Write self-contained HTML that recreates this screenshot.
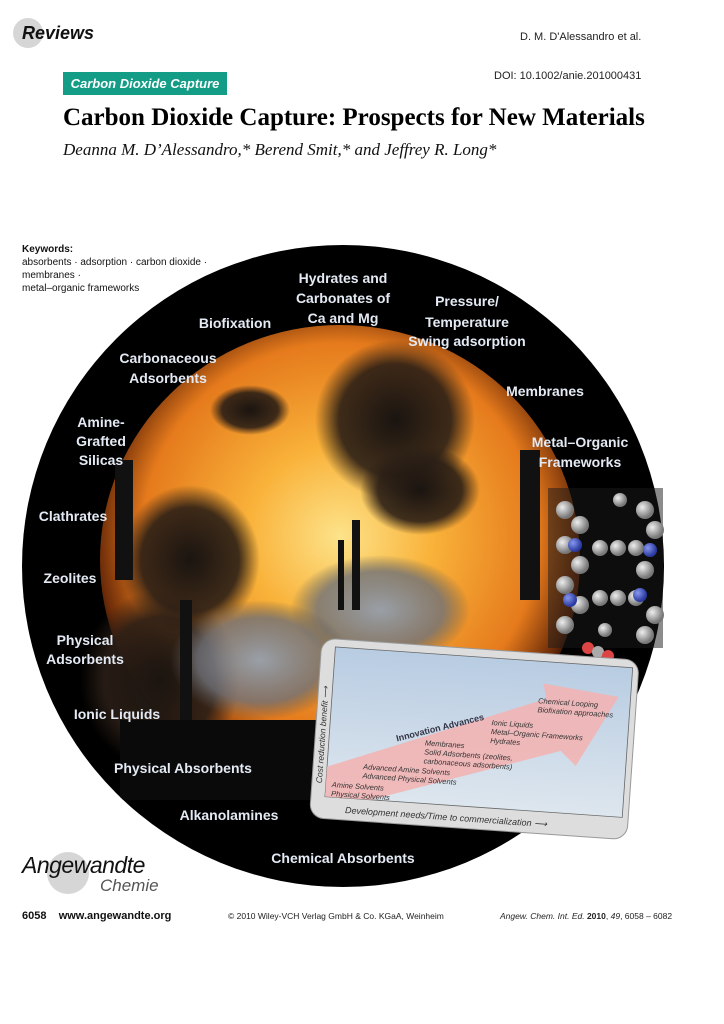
<!DOCTYPE html>
<html><head><meta charset="utf-8">
<style>
html,body{margin:0;padding:0;background:#fff;}
body{width:724px;height:1024px;position:relative;overflow:hidden;font-family:"Liberation Sans",sans-serif;}
.abs{position:absolute;}
</style></head>
<body>
<div class="abs" style="left:13px;top:18px;width:30px;height:30px;border-radius:50%;background:#d6d6d6;"></div>
<div class="abs" style="left:22px;top:23px;font:italic bold 18px 'Liberation Sans',sans-serif;color:#111;">Reviews</div>
<div class="abs" style="left:520px;top:31px;font-size:11px;color:#222;">D. M. D'Alessandro et al.</div>
<div class="abs" style="left:63px;top:72px;width:164px;height:23px;background:#139c86;color:#fff;font:italic bold 13px 'Liberation Sans',sans-serif;line-height:23px;text-align:center;">Carbon Dioxide Capture</div>
<div class="abs" style="left:494px;top:70px;font-size:11px;color:#222;">DOI: 10.1002/anie.201000431</div>
<div class="abs" style="left:63px;top:104px;font:bold 25px 'Liberation Serif',serif;color:#000;white-space:nowrap;">Carbon Dioxide Capture: Prospects for New Materials</div>
<div class="abs" style="left:63px;top:140px;font:italic 17px 'Liberation Serif',serif;color:#111;white-space:nowrap;">Deanna M. D’Alessandro,* Berend Smit,* and Jeffrey R. Long*</div>
<div class="abs" style="left:22px;top:243px;font-size:10px;line-height:13px;color:#111;"><b>Keywords:</b><br>absorbents · adsorption · carbon dioxide ·<br>membranes ·<br>metal–organic frameworks</div>

<svg class="abs" style="left:0;top:0" width="724" height="1024" viewBox="0 0 724 1024">
<defs>
<radialGradient id="fire" cx="0.5" cy="0.45" r="0.55">
<stop offset="0" stop-color="#fde38a"/><stop offset="0.35" stop-color="#f9b23a"/><stop offset="0.75" stop-color="#e57a1c"/><stop offset="0.92" stop-color="#6a2a08"/><stop offset="1" stop-color="#000"/>
</radialGradient>
<radialGradient id="sm" cx="0.5" cy="0.5" r="0.5"><stop offset="0" stop-color="#1a1410"/><stop offset="0.7" stop-color="#2a1e16" stop-opacity="0.9"/><stop offset="1" stop-color="#2a1e16" stop-opacity="0"/></radialGradient>
<radialGradient id="wsm" cx="0.5" cy="0.5" r="0.5"><stop offset="0" stop-color="#9aa0a8"/><stop offset="0.7" stop-color="#6e7078" stop-opacity="0.8"/><stop offset="1" stop-color="#555" stop-opacity="0"/></radialGradient>
<radialGradient id="ball" cx="0.35" cy="0.35" r="0.6"><stop offset="0" stop-color="#eee"/><stop offset="1" stop-color="#777"/></radialGradient>
<radialGradient id="bball" cx="0.35" cy="0.35" r="0.6"><stop offset="0" stop-color="#8898ee"/><stop offset="1" stop-color="#2a3aa0"/></radialGradient>
<linearGradient id="pb" x1="0" y1="0" x2="0" y2="1"><stop offset="0" stop-color="#b8cce2"/><stop offset="1" stop-color="#dde6ee"/></linearGradient>
<clipPath id="cc"><circle cx="343" cy="566" r="321"/></clipPath>
</defs>
<circle cx="343" cy="566" r="321" fill="#000"/>
<g clip-path="url(#cc)">
<ellipse cx="340" cy="560" rx="240" ry="235" fill="url(#fire)"/>
<ellipse cx="395" cy="420" rx="80" ry="80" fill="url(#sm)"/>
<ellipse cx="420" cy="490" rx="60" ry="45" fill="url(#sm)"/>
<ellipse cx="250" cy="410" rx="40" ry="25" fill="url(#sm)"/>
<ellipse cx="190" cy="560" rx="70" ry="75" fill="url(#sm)"/>
<ellipse cx="160" cy="680" rx="80" ry="90" fill="url(#sm)"/>
<ellipse cx="380" cy="610" rx="90" ry="55" fill="url(#wsm)"/>
<ellipse cx="260" cy="660" rx="90" ry="60" fill="url(#wsm)"/>
<rect x="352" y="520" width="8" height="90" fill="#111"/><rect x="338" y="540" width="6" height="70" fill="#111"/>
<rect x="115" y="460" width="18" height="120" fill="#111"/>
<rect x="180" y="600" width="12" height="140" fill="#111"/>
<rect x="520" y="450" width="20" height="150" fill="#111"/>
<rect x="120" y="720" width="230" height="80" fill="#0a0a0a"/>
</g>
<g>
<rect x="548" y="488" width="115" height="160" fill="#1a1a1a" opacity="0.5"/>
<g fill="url(#ball)">
<circle cx="565" cy="510" r="9"/><circle cx="580" cy="525" r="9"/><circle cx="565" cy="545" r="9"/><circle cx="580" cy="565" r="9"/><circle cx="565" cy="585" r="9"/><circle cx="580" cy="605" r="9"/><circle cx="565" cy="625" r="9"/>
<circle cx="600" cy="548" r="8"/><circle cx="618" cy="548" r="8"/><circle cx="636" cy="548" r="8"/><circle cx="600" cy="598" r="8"/><circle cx="618" cy="598" r="8"/><circle cx="636" cy="598" r="8"/>
<circle cx="645" cy="510" r="9"/><circle cx="655" cy="530" r="9"/><circle cx="645" cy="570" r="9"/><circle cx="655" cy="615" r="9"/><circle cx="645" cy="635" r="9"/>
<circle cx="620" cy="500" r="7"/><circle cx="605" cy="630" r="7"/>
</g>
<g fill="url(#bball)"><circle cx="575" cy="545" r="7"/><circle cx="570" cy="600" r="7"/><circle cx="650" cy="550" r="7"/><circle cx="640" cy="595" r="7"/></g>
<circle cx="588" cy="648" r="6" fill="#d44"/><circle cx="598" cy="652" r="6" fill="#aaa"/><circle cx="608" cy="656" r="6" fill="#d44"/>
</g>
<g transform="translate(322,638) rotate(4)">
<rect x="0" y="0" width="318" height="180" rx="14" fill="#ddd" stroke="#999" stroke-width="1"/>
<rect x="14" y="8" width="298" height="150" fill="url(#pb)" stroke="#666" stroke-width="0.8"/>
<polygon points="14,150 14,128 228,45 224,30 300,38 262,110 246,96 60,158 14,158" fill="#f2b4b4" opacity="0.9"/>
<g font-family="Liberation Sans,sans-serif" font-style="italic" font-size="7.5" fill="#333">
<text x="220" y="50">Chemical Looping</text><text x="220" y="59">Biofixation approaches</text>
<text x="175" y="75">Ionic Liquids</text><text x="175" y="84">Metal–Organic Frameworks</text><text x="175" y="93">Hydrates</text>
<text x="110" y="100">Membranes</text><text x="110" y="109">Solid Adsorbents (zeolites,</text><text x="110" y="118">carbonaceous adsorbents)</text>
<text x="50" y="128">Advanced Amine Solvents</text><text x="50" y="137">Advanced Physical Solvents</text>
<text x="20" y="148">Amine Solvents</text><text x="20" y="157">Physical Solvents</text>
<text x="35" y="173" font-size="9">Development needs/Time to commercialization ⟶</text>
<text transform="translate(10,145) rotate(-90)" font-size="8.5">Cost reduction benefit ⟶</text>
</g>
<text x="82" y="98" transform="rotate(-18 82 98)" font-family="Liberation Sans,sans-serif" font-weight="bold" font-size="9" fill="#334">Innovation Advances</text>
</g>
<g font-family="Liberation Sans,sans-serif" font-weight="bold" font-size="14" fill="#e4eaf4" text-anchor="middle">
<text x="343" y="283">Hydrates and</text><text x="343" y="303">Carbonates of</text><text x="343" y="323">Ca and Mg</text>
<text x="235" y="328">Biofixation</text>
<text x="467" y="306">Pressure/</text><text x="467" y="327">Temperature</text><text x="467" y="346">Swing adsorption</text>
<text x="168" y="363">Carbonaceous</text><text x="168" y="383">Adsorbents</text>
<text x="545" y="396">Membranes</text>
<text x="101" y="427">Amine-</text><text x="101" y="446">Grafted</text><text x="101" y="465">Silicas</text>
<text x="580" y="447">Metal–Organic</text><text x="580" y="467">Frameworks</text>
<text x="73" y="521">Clathrates</text>
<text x="70" y="583">Zeolites</text>
<text x="85" y="645">Physical</text><text x="85" y="664">Adsorbents</text>
<text x="117" y="719">Ionic Liquids</text>
<text x="183" y="773">Physical Absorbents</text>
<text x="229" y="820">Alkanolamines</text>
<text x="343" y="863">Chemical Absorbents</text>
</g>
</svg>

<div class="abs" style="left:47px;top:852px;width:42px;height:42px;border-radius:50%;background:#d6d6d6;"></div>
<div class="abs" style="left:22px;top:852px;font:italic 23px 'Liberation Sans',sans-serif;color:#111;letter-spacing:-0.5px;">Angewandte</div>
<div class="abs" style="left:100px;top:876px;font:italic 17px 'Liberation Sans',sans-serif;color:#555;">Chemie</div>
<div class="abs" style="left:22px;top:910px;font:bold 11px 'Liberation Sans',sans-serif;color:#111;">6058&nbsp;&nbsp;&nbsp;&nbsp;www.angewandte.org</div>
<div class="abs" style="left:228px;top:911px;font-size:8.5px;color:#222;">© 2010 Wiley-VCH Verlag GmbH &amp; Co. KGaA, Weinheim</div>
<div class="abs" style="left:500px;top:911px;font-size:8.5px;color:#222;"><i>Angew. Chem. Int. Ed.</i> <b>2010</b>, <i>49</i>, 6058 – 6082</div>
</body></html>
